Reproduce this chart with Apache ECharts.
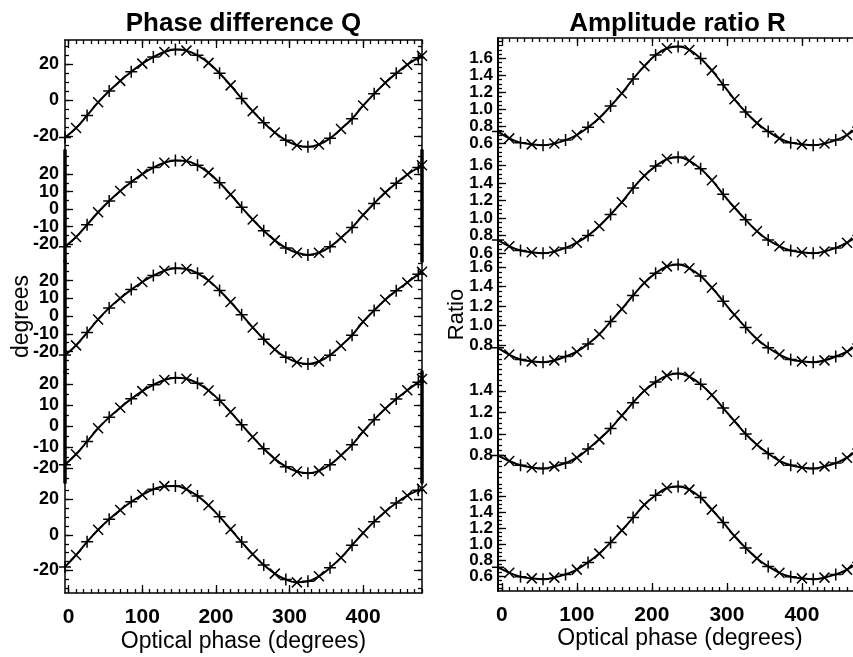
<!DOCTYPE html>
<html>
<head>
<meta charset="utf-8">
<script src="https://cdn.jsdelivr.net/npm/echarts@6/dist/echarts.min.js"></script>
<style>
html,body{margin:0;padding:0;background:#fff;}
#c{width:853px;height:657px;}
</style>
</head>
<body>
<div id="c"></div>
<script>
// ---------- data ----------
const phase = [-5,10,25,40,55,70,85,100,115,130,145,160,175,190,205,220,235,250,265,280,295,310,325,340,355,370,385,400,415,430,445,460,475,480];

// Phase difference Q (degrees), five panels top to bottom
const q1 = [-20.8,-15.6,-8.6,-1.3,5.0,10.6,15.7,20.2,23.8,26.6,28.0,27.4,24.8,20.6,14.8,8.1,0.8,-6.2,-12.6,-18.1,-22.4,-25.1,-26.0,-24.7,-21.3,-16.1,-10.4,-3.1,3.4,9.5,14.8,19.6,23.5,24.6];
const q2 = [-21.5,-16.0,-9.0,-1.8,4.6,10.3,15.5,20.0,23.7,26.5,27.8,27.5,25.0,20.8,15.0,8.3,1.0,-6.0,-12.4,-17.9,-22.2,-25.0,-26.2,-25.0,-21.6,-16.4,-10.6,-3.4,3.2,9.4,14.8,19.7,23.7,25.0];
const q3 = [-22.0,-16.5,-9.3,-1.9,4.6,10.0,14.9,19.2,22.8,25.5,26.9,26.5,24.1,20.0,14.4,7.9,0.8,-6.4,-13.1,-18.8,-23.2,-26.0,-27.0,-25.6,-22.1,-16.7,-10.8,-3.2,3.2,9.2,14.3,18.9,23.5,25.0];
const q4 = [-18.5,-13.5,-7.4,-1.1,4.1,8.7,12.9,16.6,19.6,21.9,23.0,22.5,20.4,16.9,12.2,6.6,0.6,-5.3,-10.9,-15.7,-19.4,-21.7,-22.5,-21.4,-18.5,-14.0,-9.0,-2.7,3.0,8.2,12.8,17.0,20.8,22.4];
const q5 = [-18.0,-11.3,-3.9,2.9,8.8,14.0,18.7,22.6,25.7,27.5,27.6,25.7,22.0,16.7,10.3,3.2,-4.0,-10.9,-16.9,-21.8,-25.1,-26.7,-26.1,-23.3,-18.5,-12.8,-5.8,1.1,7.5,13.1,18.0,22.2,25.2,26.0];

// Amplitude ratio R, five panels top to bottom
const r1 = [0.74,0.66,0.61,0.59,0.58,0.60,0.64,0.70,0.79,0.90,1.04,1.19,1.36,1.51,1.64,1.72,1.74,1.70,1.60,1.46,1.29,1.12,0.97,0.84,0.74,0.66,0.61,0.59,0.58,0.60,0.64,0.70,0.79,0.82];
const r2 = [0.75,0.68,0.63,0.61,0.60,0.62,0.66,0.72,0.80,0.91,1.04,1.18,1.34,1.48,1.59,1.67,1.69,1.65,1.56,1.43,1.27,1.12,0.98,0.85,0.75,0.68,0.63,0.61,0.60,0.62,0.66,0.72,0.80,0.84];
const r3 = [0.77,0.70,0.65,0.63,0.62,0.64,0.68,0.73,0.81,0.91,1.04,1.17,1.31,1.44,1.54,1.61,1.63,1.59,1.51,1.39,1.25,1.11,0.98,0.86,0.77,0.70,0.65,0.63,0.62,0.64,0.68,0.73,0.81,0.85];
const r4 = [0.80,0.75,0.71,0.69,0.68,0.70,0.73,0.78,0.86,0.95,1.05,1.17,1.29,1.40,1.48,1.54,1.56,1.53,1.46,1.36,1.24,1.12,1.00,0.90,0.82,0.75,0.71,0.69,0.68,0.70,0.73,0.78,0.86,0.89];
const r5 = [0.71,0.64,0.59,0.57,0.56,0.58,0.62,0.68,0.77,0.88,1.02,1.17,1.33,1.49,1.61,1.70,1.72,1.68,1.58,1.43,1.27,1.10,0.95,0.82,0.72,0.64,0.59,0.57,0.56,0.58,0.62,0.68,0.77,0.80];

// tick labels
const xTickLabels = [0,100,200,300,400];
const qTicksWide = [-20,0,20];
const qTicksFine = [-20,-10,0,10,20];
const rTicksFull = [0.6,0.8,1.0,1.2,1.4,1.6];
const rTicksMid = [0.8,1.0,1.2,1.4,1.6];
const rTicksLow = [0.8,1.0,1.2,1.4];

// ---------- layout / styling ----------
const FONT = '"Liberation Sans", Arial, sans-serif';
const X_MIN = -5, X_MAX = 480;
const PLUS = 'path://M0,5L10,5M5,0L5,10';
const CROSS = 'path://M0,0L10,10M10,0L0,10';

function stepList(from, to, step) {
  const out = [];
  const start = Math.ceil(from / step - 1e-9) * step;
  for (let v = start; v <= to + 1e-9; v += step) out.push(+v.toFixed(4));
  return out;
}
const xMinor = stepList(0, 480, 10);

const columns = [
  {
    left: 65, width: 357, top: 40, ph: 110.6,
    title: 'Phase difference Q', titleX: 243.5,
    yName: 'degrees', yNameGap: 32, yNameSize: 23,
    values: [q1, q2, q3, q4, q5],
    ranges: [[-28.1, 33.3], [-29.8, 33.4], [-31.4, 30.9], [-26.9, 25.8], [-32.7, 29.6]],
    ticks: [qTicksWide, qTicksFine, qTicksFine, qTicksFine, qTicksWide],
    minorStep: 5, fmt: v => String(v), labelSize: 18, labelMargin: 6,
    axisW: [[1.5, 1.5], [3.5, 3.5], [3.5, 1.5], [3.5, 3.5], [1.5, 1.5]],
    xNameGap: 37
  },
  {
    left: 498, width: 364, top: 38, ph: 110.6,
    title: 'Amplitude ratio R', titleX: 677.5,
    yName: 'Ratio', yNameGap: 30, yNameSize: 22,
    values: [r1, r2, r3, r4, r5],
    ranges: [[0.54, 1.841], [0.532, 1.789], [0.543, 1.684], [0.570, 1.594], [0.4125, 1.795]],
    ticks: [rTicksFull, rTicksFull, rTicksMid, rTicksLow, rTicksFull],
    minorStep: 0.05, fmt: v => Number(v).toFixed(1), labelSize: 17, labelMargin: 5,
    axisW: [[2, 1.5], [2, 1.5], [2, 1.5], [2, 1.5], [2, 1.5]],
    xNameGap: 36
  }
];

const tickLine = { color: '#000', width: 1.3 };
const option = {
  animation: false,
  backgroundColor: '#fff',
  title: columns.map(col => ({
    text: col.title, left: col.titleX, top: 11, textAlign: 'center', padding: 0,
    textStyle: { fontFamily: FONT, fontSize: 26, fontWeight: 'bold', color: '#000', lineHeight: 26 }
  })),
  grid: [], xAxis: [], yAxis: [], series: []
};

columns.forEach(col => {
  for (let i = 0; i < 5; i++) {
    const g = option.grid.length;
    option.grid.push({
      left: col.left, top: col.top + col.ph * i, width: col.width, height: col.ph,
      containLabel: false, outerBoundsMode: 'none'
    });

    const baseX = { gridIndex: g, type: 'value', min: X_MIN, max: X_MAX, splitLine: { show: false } };
    let xi = option.xAxis.length;
    if (i === 0 || i === 4) {
      const pos = i === 0 ? 'top' : 'bottom';
      const bottom = i === 4;
      option.xAxis.push(Object.assign({}, baseX, {
        position: pos,
        axisLine: { show: true, onZero: false, lineStyle: { color: '#000', width: 1.5 } },
        axisTick: { show: true, inside: true, length: 8, customValues: xTickLabels, lineStyle: tickLine },
        axisLabel: bottom ? {
          show: true, customValues: xTickLabels, margin: 14, color: '#000', fontSize: 21, fontWeight: 'bold',
          fontFamily: FONT, showMinLabel: true, showMaxLabel: true
        } : { show: false },
        name: bottom ? 'Optical phase (degrees)' : '',
        nameLocation: 'middle', nameGap: col.xNameGap, nameMoveOverlap: false,
        nameTextStyle: { color: '#000', fontSize: 23, fontFamily: FONT }
      }));
      option.xAxis.push(Object.assign({}, baseX, {
        position: pos,
        axisLine: { show: false, onZero: false },
        axisTick: { show: true, inside: true, length: 4, customValues: xMinor, lineStyle: tickLine },
        axisLabel: { show: false }
      }));
    } else {
      option.xAxis.push(Object.assign({}, baseX, { show: false, axisLine: { onZero: false } }));
    }

    const [ymin, ymax] = col.ranges[i];
    const baseY = { gridIndex: g, type: 'value', min: ymin, max: ymax, splitLine: { show: false } };
    const minor = stepList(ymin, ymax, col.minorStep);
    const allTicks = col.ticks[i];
    // split labels over two overlapping axes so none is thinned out
    const labelsA = allTicks.filter((v, k) => k % 2 === (allTicks.length % 2 ? 0 : 1) || allTicks.length <= 3);
    const labelsB = allTicks.filter(v => labelsA.indexOf(v) < 0);
    const labelStyle = {
      show: true, formatter: col.fmt, margin: col.labelMargin,
      color: '#000', fontSize: col.labelSize, fontWeight: 'bold', fontFamily: FONT,
      showMinLabel: true, showMaxLabel: true
    };
    const yi = option.yAxis.length;
    option.yAxis.push(Object.assign({}, baseY, {
      position: 'left',
      axisLine: { show: true, onZero: false, lineStyle: { color: '#000', width: col.axisW[i][0] } },
      axisTick: { show: true, inside: true, length: 8, customValues: allTicks, lineStyle: tickLine },
      axisLabel: Object.assign({}, labelStyle, { customValues: labelsA }),
      name: i === 2 ? col.yName : '',
      nameLocation: 'middle', nameGap: col.yNameGap, nameMoveOverlap: false,
      nameTextStyle: { color: '#000', fontSize: col.yNameSize, fontFamily: FONT }
    }));
    if (labelsB.length) {
      option.yAxis.push(Object.assign({}, baseY, {
        position: 'left',
        axisLine: { show: false, onZero: false },
        axisTick: { show: false },
        axisLabel: Object.assign({}, labelStyle, { customValues: labelsB })
      }));
    }
    option.yAxis.push(Object.assign({}, baseY, {
      position: 'left',
      axisLine: { show: false, onZero: false },
      axisTick: { show: true, inside: true, length: 4, customValues: minor, lineStyle: tickLine },
      axisLabel: { show: false }
    }));
    option.yAxis.push(Object.assign({}, baseY, {
      position: 'right',
      axisLine: { show: true, onZero: false, lineStyle: { color: '#000', width: col.axisW[i][1] } },
      axisTick: { show: true, inside: true, length: 8, customValues: allTicks, lineStyle: tickLine },
      axisLabel: { show: false }
    }));
    option.yAxis.push(Object.assign({}, baseY, {
      position: 'right',
      axisLine: { show: false, onZero: false },
      axisTick: { show: true, inside: true, length: 4, customValues: minor, lineStyle: tickLine },
      axisLabel: { show: false }
    }));

    const vals = col.values[i];
    option.series.push({
      type: 'line',
      xAxisIndex: xi, yAxisIndex: yi,
      smooth: 0.4,
      silent: true,
      emphasis: { disabled: true },
      lineStyle: { color: '#000', width: 2 },
      itemStyle: { color: '#000', borderColor: '#000', borderWidth: 1.5 },
      showSymbol: true,
      data: phase.map((x, k) => ({
        value: [x, vals[k]],
        symbol: k % 2 ? CROSS : PLUS,
        symbolSize: k % 2 ? 10 : 12
      }))
    });
  }
});

const chart = echarts.init(document.getElementById('c'), null, { renderer: 'canvas' });
chart.setOption(option);
</script>
</body>
</html>
